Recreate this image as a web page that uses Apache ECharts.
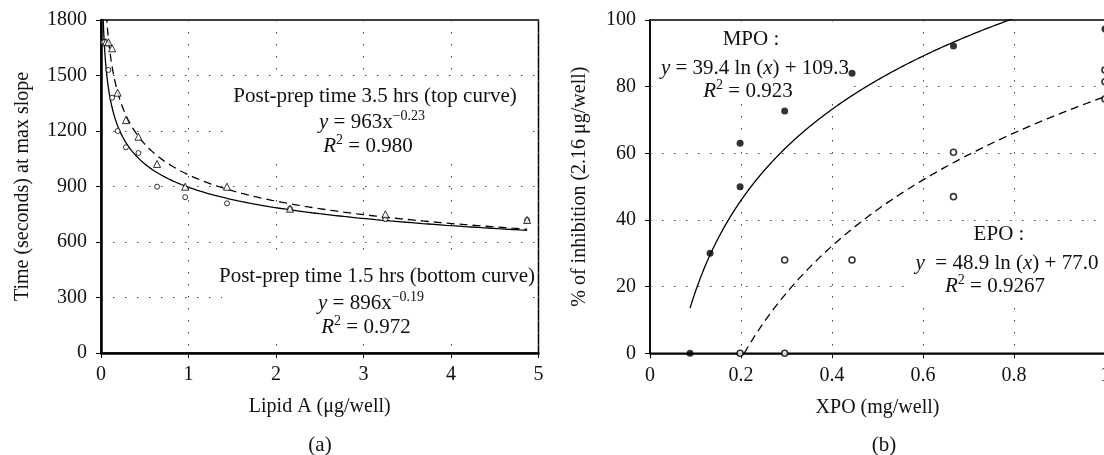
<!DOCTYPE html>
<html><head><meta charset="utf-8">
<script src="https://cdn.jsdelivr.net/npm/echarts@6/dist/echarts.min.js"></script>
<style>html,body{margin:0;padding:0;background:#fff}#c{width:1104px;height:455px}</style>
</head><body><div id="c"></div>
<script>
// ---- Panel (a) data: Lipid A (µg/well) vs time at max slope (s)
const bottomX = [0.025, 0.0375, 0.0845, 0.127, 0.19, 0.285, 0.428, 0.641, 0.962, 1.44, 2.16, 3.25, 4.87];
const bottomY = [1680, 1680, 1530, 1380, 1200, 1112, 1081, 899, 842, 809, 780, 723, 719];
const topX = [0.0563, 0.0845, 0.127, 0.19, 0.285, 0.428, 0.641, 0.962, 1.44, 2.16, 3.25, 4.87];
const topY = [1680, 1680, 1647, 1407, 1259, 1169, 1022, 899, 899, 780, 750, 719];
// power fits printed on the chart: y = a * x^b
const bottomFit = [896, -0.19];
const topFit = [963, -0.23];
const fitRangeA = [0.025, 4.87];
const ticksAX = [0, 1, 2, 3, 4, 5];
const ticksAY = [0, 300, 600, 900, 1200, 1500, 1800];

// ---- Panel (b) data: XPO (mg/well) vs % inhibition
const mpoX = [0.088, 0.132, 0.198, 0.198, 0.296, 0.444, 0.667, 1.0];
const mpoY = [0, 30, 50, 63, 72.7, 84, 92.2, 97.3];
const epoX = [0.198, 0.296, 0.296, 0.444, 0.667, 0.667, 1.0, 1.0, 1.0];
const epoY = [0, 0, 28, 28, 47, 60.3, 76.3, 81.5, 85];
// log fits printed on the chart: y = a ln(x) + b
const mpoFit = [39.4, 109.3];
const epoFit = [48.9, 77.0];
const mpoRange = [0.088, 1.0];
const epoRange = [0.207, 1.0];
const ticksBX = [0, 0.2, 0.4, 0.6, 0.8, 1];
const ticksBY = [0, 20, 40, 60, 80, 100];

function pts(xs, ys) { return xs.map((x, i) => [x, ys[i]]); }
function curve(fn, r, n) {
  const out = [];
  const l0 = Math.log(r[0]), l1 = Math.log(r[1]);
  for (let i = 0; i <= n; i++) { const x = Math.exp(l0 + (l1 - l0) * i / n); out.push([x, fn(x)]); }
  return out;
}
const powFn = f => x => f[0] * Math.pow(x, f[1]);
const lnFn = f => x => f[0] * Math.log(x) + f[1];

const FF = '"Liberation Serif", "DejaVu Serif", serif';
const dotted = { color: '#444', width: 1, type: [1.5, 10.5] };
const fmt = v => String(Math.round(v * 1000) / 1000);

function mkAxis(ticks, extra) {
  return Object.assign({
    type: 'value', min: ticks[0], max: ticks[ticks.length - 1], interval: ticks[1] - ticks[0],
    axisLine: { show: true, onZero: false, lineStyle: { color: '#000', width: 1.5 } },
    axisTick: { show: true, length: 5, lineStyle: { color: '#000', width: 1 } },
    axisLabel: { color: '#111', fontFamily: FF, fontSize: 20, formatter: fmt },
    splitLine: { show: true, lineStyle: dotted },
    nameLocation: 'middle',
    nameTextStyle: { color: '#111', fontFamily: FF, fontSize: 20 }
  }, extra || {});
}

const richBase = {
  i: { fontStyle: 'italic', fontFamily: FF, fontSize: 21, fill: '#111' },
  sup: { fontFamily: FF, fontSize: 14, padding: [0, 0, 12, 0], fill: '#111' }
};
function txt(x, y, s) {
  return { type: 'text', x: x, y: y, z: 10,
    style: { text: s, align: 'center', verticalAlign: 'middle', fontFamily: FF, fontSize: 21, fill: '#111', rich: richBase } };
}
function box(x, y, w, h) {
  return { type: 'rect', z: 1, shape: { x: x, y: y, width: w, height: h }, style: { fill: '#fff' } };
}

const chart = echarts.init(document.getElementById('c'), null, { renderer: 'canvas' });
chart.setOption({
  animation: false,
  backgroundColor: '#fff',
  grid: [
    { left: 101, top: 20, width: 437.5, height: 333, show: true, borderColor: '#000', borderWidth: 1.5, backgroundColor: 'transparent', containLabel: false, outerBoundsMode: 'none' },
    { left: 650, top: 20, width: 455, height: 333.3, show: true, borderColor: '#000', borderWidth: 1.5, backgroundColor: 'transparent', containLabel: false, outerBoundsMode: 'none' }
  ],
  xAxis: [
    mkAxis(ticksAX, { gridIndex: 0, name: 'Lipid A (\u03bcg/well)', nameGap: 44,
      axisLine: { show: true, onZero: false, lineStyle: { color: '#000', width: 2.5 } },
      axisLabel: { color: '#111', fontFamily: FF, fontSize: 20, margin: 12, formatter: fmt } }),
    mkAxis(ticksBX, { gridIndex: 1, name: 'XPO (mg/well)', nameGap: 44,
      axisLabel: { color: '#111', fontFamily: FF, fontSize: 20, margin: 12, formatter: fmt } })
  ],
  yAxis: [
    mkAxis(ticksAY, { gridIndex: 0, name: 'Time (seconds) at max slope', nameGap: 68,
      axisLine: { show: true, onZero: false, lineStyle: { color: '#000', width: 2.5 } },
      axisLabel: { color: '#111', fontFamily: FF, fontSize: 20, margin: 14, formatter: fmt } }),
    mkAxis(ticksBY, { gridIndex: 1, name: '% of inhibition (2.16 \u03bcg/well)', nameGap: 60,
      axisLabel: { color: '#111', fontFamily: FF, fontSize: 20, margin: 14, formatter: fmt } })
  ],
  series: [
    { type: 'line', xAxisIndex: 0, yAxisIndex: 0, data: curve(powFn(bottomFit), fitRangeA, 300), showSymbol: false, clip: true,
      lineStyle: { color: '#000', width: 1.3 }, z: 3 },
    { type: 'line', xAxisIndex: 0, yAxisIndex: 0, data: curve(powFn(topFit), fitRangeA, 300), showSymbol: false, clip: true,
      lineStyle: { color: '#000', width: 1.3, type: [8, 5] }, z: 3 },
    { type: 'scatter', xAxisIndex: 0, yAxisIndex: 0, data: pts(bottomX, bottomY), symbol: 'circle', symbolSize: 5,
      itemStyle: { color: '#fff', borderColor: '#000', borderWidth: 1 }, z: 4 },
    { type: 'scatter', xAxisIndex: 0, yAxisIndex: 0, data: pts(topX, topY), symbol: 'triangle', symbolSize: 7,
      itemStyle: { color: '#fff', borderColor: '#000', borderWidth: 1 }, z: 4 },
    { type: 'line', xAxisIndex: 1, yAxisIndex: 1, data: curve(lnFn(mpoFit), mpoRange, 300), showSymbol: false, clip: true,
      lineStyle: { color: '#000', width: 1.3 }, z: 3 },
    { type: 'line', xAxisIndex: 1, yAxisIndex: 1, data: curve(lnFn(epoFit), epoRange, 300), showSymbol: false, clip: true,
      lineStyle: { color: '#000', width: 1.3, type: [8, 5] }, z: 3 },
    { type: 'scatter', xAxisIndex: 1, yAxisIndex: 1, data: pts(mpoX, mpoY), symbol: 'circle', symbolSize: 7,
      itemStyle: { color: '#000' }, z: 4, clip: false },
    { type: 'scatter', xAxisIndex: 1, yAxisIndex: 1, data: pts(epoX, epoY), symbol: 'circle', symbolSize: 6,
      itemStyle: { color: '#fff', borderColor: '#000', borderWidth: 1.6 }, z: 4, clip: false }
  ],
  graphic: [
    box(226, 79, 304, 82),
    box(222, 256, 308, 86),
    box(657, 28, 196, 74),
    box(904, 222, 192, 82),
    txt(375, 96, 'Post-prep time 3.5 hrs (top curve)'),
    txt(372, 122, '{i|y} = 963x{sup|\u22120.23}'),
    txt(368, 146, '{i|R}{sup|2} = 0.980'),
    txt(377, 276, 'Post-prep time 1.5 hrs (bottom curve)'),
    txt(371, 303, '{i|y} = 896x{sup|\u22120.19}'),
    txt(366, 327, '{i|R}{sup|2} = 0.972'),
    txt(751, 39, 'MPO :'),
    txt(755, 68, '{i|y} = 39.4 ln ({i|x}) + 109.3'),
    txt(748, 91, '{i|R}{sup|2} = 0.923'),
    txt(999, 234, 'EPO :'),
    txt(1007, 263, '{i|y}  = 48.9 ln ({i|x}) + 77.0'),
    txt(995, 286, '{i|R}{sup|2} = 0.9267'),
    txt(320, 445, '(a)'),
    txt(884, 445, '(b)')
  ]
});
</script></body></html>
